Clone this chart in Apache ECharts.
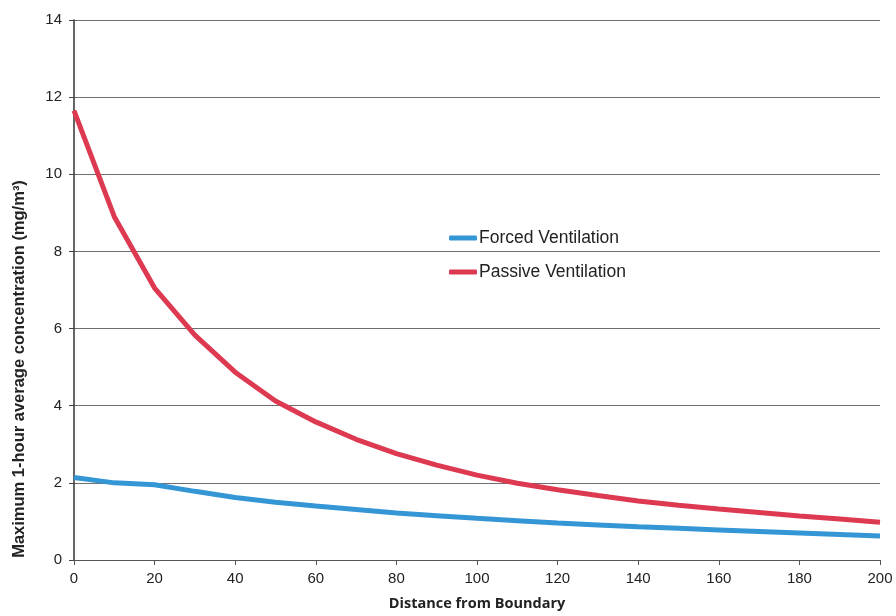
<!DOCTYPE html>
<html>
<head>
<meta charset="utf-8">
<script src="https://cdn.jsdelivr.net/npm/echarts@6/dist/echarts.min.js"></script>
<style>html,body{margin:0;padding:0;background:#fff}#c{width:896px;height:616px}</style>
</head>
<body>
<div id="c"></div>
<script>
var distances = [0,10,20,30,40,50,60,70,80,90,100,110,120,130,140,150,160,170,180,190,200];
var forced = [2.14,2.0,1.95,1.78,1.62,1.5,1.4,1.31,1.22,1.15,1.08,1.02,0.96,0.91,0.86,0.82,0.78,0.74,0.70,0.66,0.62];
var passive = [11.65,8.9,7.05,5.83,4.87,4.12,3.58,3.13,2.76,2.46,2.2,1.99,1.82,1.67,1.53,1.42,1.32,1.23,1.14,1.06,0.98];
var seriesNames = ['Forced Ventilation','Passive Ventilation'];
var xName = 'Distance from Boundary';
var yName = 'Maximum 1-hour average concentration (mg/m\u00B3)';

function pairs(vals){ return distances.map(function(d,i){ return [d, vals[i]]; }); }

var SANS = "'Liberation Sans', Arial, sans-serif";
var chart = echarts.init(document.getElementById('c'));
chart.setOption({
  animation:false,
  backgroundColor:'#fff',
  grid:{left:74,right:16,top:20,bottom:53},
  legend:{
    orient:'vertical', left:444, top:224, itemGap:16,
    itemWidth:28, itemHeight:5, icon:'roundRect',
    textStyle:{fontFamily:SANS, fontSize:17.5, color:'#222', padding:[0,0,0,-3]},
    data:seriesNames
  },
  xAxis:{
    type:'value', min:0, max:200, interval:20,
    name:xName, nameLocation:'middle', nameGap:36,
    nameTextStyle:{fontFamily:"'Open Sans', 'Liberation Sans', sans-serif", fontWeight:'bold', fontSize:14.5, color:'#222'},
    axisLine:{lineStyle:{color:'#555',width:1}},
    axisTick:{show:true,length:5,lineStyle:{color:'#555'}},
    axisLabel:{fontFamily:SANS, fontSize:15, color:'#222', margin:11},
    splitLine:{show:false}
  },
  yAxis:{
    type:'value', min:0, max:14, interval:2,
    name:yName, nameLocation:'middle', nameGap:46,
    nameTextStyle:{fontFamily:SANS, fontWeight:'bold', fontSize:16.5, color:'#222', padding:[0,158,0,0]},
    axisLine:{show:true,lineStyle:{color:'#333',width:1.5}},
    axisTick:{show:true,length:5,lineStyle:{color:'#444'}},
    axisLabel:{fontFamily:SANS, fontSize:15, color:'#222', margin:12},
    splitLine:{show:true,lineStyle:{color:'#6e6e6e',width:1}}
  },
  series:[
    {name:seriesNames[0], type:'line', data:pairs(forced), showSymbol:false, symbol:'none',
     lineStyle:{color:'#3596d6',width:5}, itemStyle:{color:'#3596d6'}},
    {name:seriesNames[1], type:'line', data:pairs(passive), showSymbol:false, symbol:'none',
     lineStyle:{color:'#dd3a52',width:5}, itemStyle:{color:'#dd3a52'}}
  ]
});
</script>
</body>
</html>
